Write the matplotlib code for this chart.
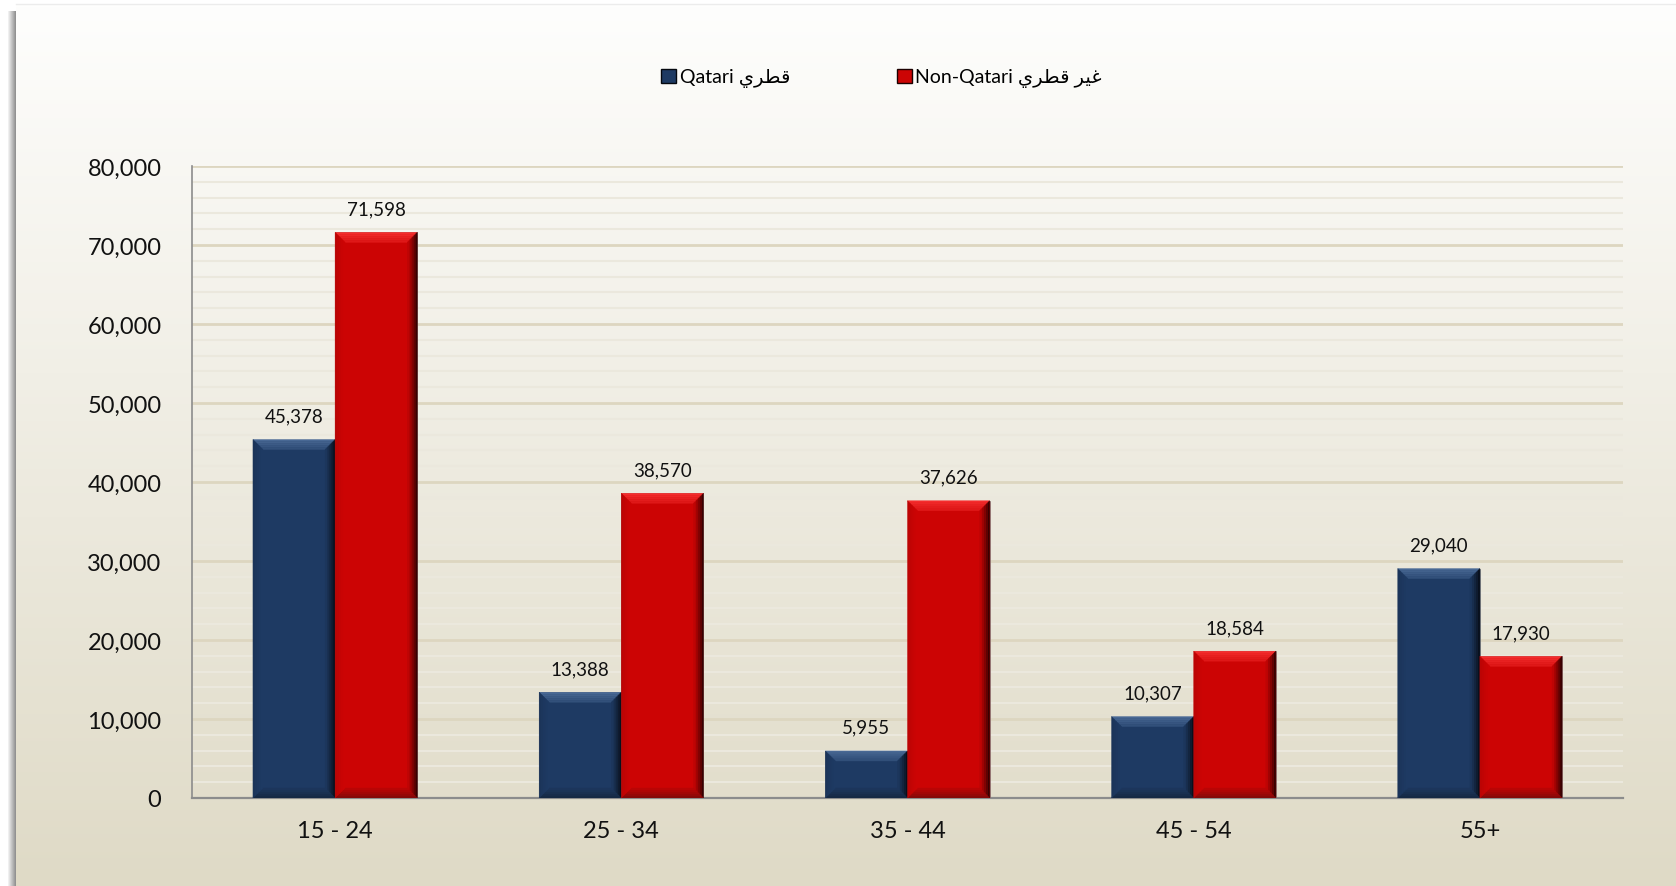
import matplotlib

matplotlib.use("Agg")
import matplotlib.pyplot as plt
import numpy as np
from matplotlib.colors import to_rgb
from matplotlib.patches import Patch, Polygon, Rectangle
from matplotlib.ticker import FuncFormatter, MultipleLocator

# ---- data ------------------------------------------------------------------
age_groups = ["15 - 24", "25 - 34", "35 - 44", "45 - 54", "55+"]
qatari = [45378, 13388, 5955, 10307, 29040]
non_qatari = [71598, 38570, 37626, 18584, 17930]

# Arabic words written in presentation forms, visual order (matplotlib has no shaping)
AR_QATARI = "\uFEF1\uFEAE\uFEC4\uFED7"                      # قطري
AR_NON_QATARI = "\uFEF1\uFEAE\uFEC4\uFED7 \uFEAE\uFEF4\uFECF"  # غير قطري
series_labels = ["Qatari " + AR_QATARI, "Non-Qatari " + AR_NON_QATARI]

# face, top edge, right edge, bottom edge, left edge
NAVY = ("#1e3a63", "#4d6d99", "#05080f", "#14263f", "#1a3357")
RED = ("#cc0404", "#f83232", "#1c0000", "#7a0a0a", "#b80404")

plt.rcParams["font.family"] = ["Lato", "DejaVu Sans"]

W, H, DPI = 1676, 887, 100
fig = plt.figure(figsize=(W / DPI, H / DPI), dpi=DPI)

# ---- background: gradient card with a grey shadow on the left ----------------
bg = fig.add_axes([0, 0, 1, 1], zorder=-10)
bg.add_patch(Rectangle((0, 0), W, H, color="white", zorder=0))
for i, a in enumerate(np.linspace(0.1, 0.75, 8)):
    bg.add_patch(Rectangle((8 + i, 0), 1, H - 12, color="#6e6e6e", alpha=a, lw=0, zorder=1))
top_c = np.array([254, 254, 253]) / 255
bot_c = np.array([223, 218, 198]) / 255
t = np.linspace(0, 1, 256)[:, None]
grad = (top_c * (1 - t) + bot_c * t)[:, None, :]
bg.imshow(grad, extent=(16, W, 0, H - 5), aspect="auto", origin="upper", zorder=2)
bg.plot([16, W], [H - 5, H - 5], color="#ececec", lw=1, zorder=3)
bg.set_xlim(0, W)
bg.set_ylim(0, H)
bg.axis("off")

# ---- main chart ------------------------------------------------------------
ax = fig.add_axes([192 / W, 1 - 799 / H, 1431 / W, 632 / H])
ax.set_facecolor("none")

x = np.arange(len(age_groups))
bw = 0.287
b1 = ax.bar(x - bw / 2, qatari, bw, color=NAVY[0], edgecolor="#7a7a7a", lw=0.5, zorder=3)
b2 = ax.bar(x + bw / 2, non_qatari, bw, color=RED[0], edgecolor="#7a7a7a", lw=0.5, zorder=3)

ax.set_xlim(-0.5, len(age_groups) - 0.5)
ax.set_ylim(0, 80000)


def mix(c1, c2, f):
    a, b = np.array(to_rgb(c1)), np.array(to_rgb(c2))
    return tuple(a * (1 - f) + b * f)


def add_bevel(bar, cols, px=10, steps=5):
    """Fake the Excel bevel: light top, dark right, darker bottom, in thin strips."""
    x0, w, h = bar.get_x(), bar.get_width(), bar.get_height()
    ux = (ax.get_xlim()[1] - ax.get_xlim()[0]) / 1431
    uy = (ax.get_ylim()[1] - ax.get_ylim()[0]) / 632
    x1 = x0 + w
    for k in range(steps):
        a, b = k * px / steps, (k + 1) * px / steps
        f = (k + 0.5) / steps  # 0 at outer edge -> 1 near face
        ax_, bx = a * ux, b * ux
        ay, by = a * uy, b * uy
        sides = [
            ([(x0 + ax_, h - ay), (x1 - ax_, h - ay), (x1 - bx, h - by), (x0 + bx, h - by)], cols[1], 1.6),
            ([(x1 - ax_, h - ay), (x1 - ax_, ay), (x1 - bx, by), (x1 - bx, h - by)], cols[2], 1.0),
            ([(x0 + ax_, ay), (x1 - ax_, ay), (x1 - bx, by), (x0 + bx, by)], cols[3], 1.2),
            ([(x0 + ax_, ay), (x0 + ax_, h - ay), (x0 + bx, h - by), (x0 + bx, by)], cols[4], 0.9),
        ]
        for pts, edge, reach in sides:
            c = mix(edge, cols[0], min(1, f ** 0.8 / reach))
            ax.add_patch(Polygon(pts, closed=True, facecolor=c, edgecolor=c, lw=0.3, zorder=4))


for bar in b1:
    add_bevel(bar, NAVY)
for bar in b2:
    add_bevel(bar, RED)

for bars in (b1, b2):
    for bar in bars:
        ax.annotate(f"{bar.get_height():,.0f}",
                    (bar.get_x() + bar.get_width() / 2, bar.get_height()),
                    xytext=(0, 11), textcoords="offset points",
                    ha="center", va="bottom", fontsize=13.5, color="#111111")

# grid: faint every 2,000, stronger every 10,000
ax.yaxis.set_major_locator(MultipleLocator(10000))
ax.yaxis.set_minor_locator(MultipleLocator(2000))
ax.grid(which="minor", axis="y", color="#ebe8dd", lw=1.5, zorder=0)
ax.grid(which="major", axis="y", color="#ddd6c0", lw=2.0, zorder=0)
ax.set_axisbelow(True)

ax.yaxis.set_major_formatter(FuncFormatter(lambda v, _: f"{v:,.0f}"))
ax.set_xticks(x)
ax.set_xticklabels(age_groups)
ax.tick_params(axis="y", which="both", length=0, pad=22, labelsize=17, labelcolor="#111")
ax.tick_params(axis="x", length=0, pad=16, labelsize=17, labelcolor="#111")

for s in ("top", "right"):
    ax.spines[s].set_visible(False)
ax.spines["left"].set_color("#8c8c8c")
ax.spines["bottom"].set_color("#8c8c8c")
ax.spines["left"].set_linewidth(1.2)
ax.spines["bottom"].set_linewidth(1.6)

handles = [Patch(facecolor=NAVY[0], edgecolor=NAVY[2]),
           Patch(facecolor=RED[0], edgecolor=RED[2])]
fig.legend(handles, series_labels, loc="center", bbox_to_anchor=(0.526, 0.911),
           ncol=2, frameon=False, fontsize=14, handlelength=0.75, handleheight=0.75,
           handletextpad=0.2, columnspacing=5.5)

fig.savefig("out.png", dpi=DPI)
